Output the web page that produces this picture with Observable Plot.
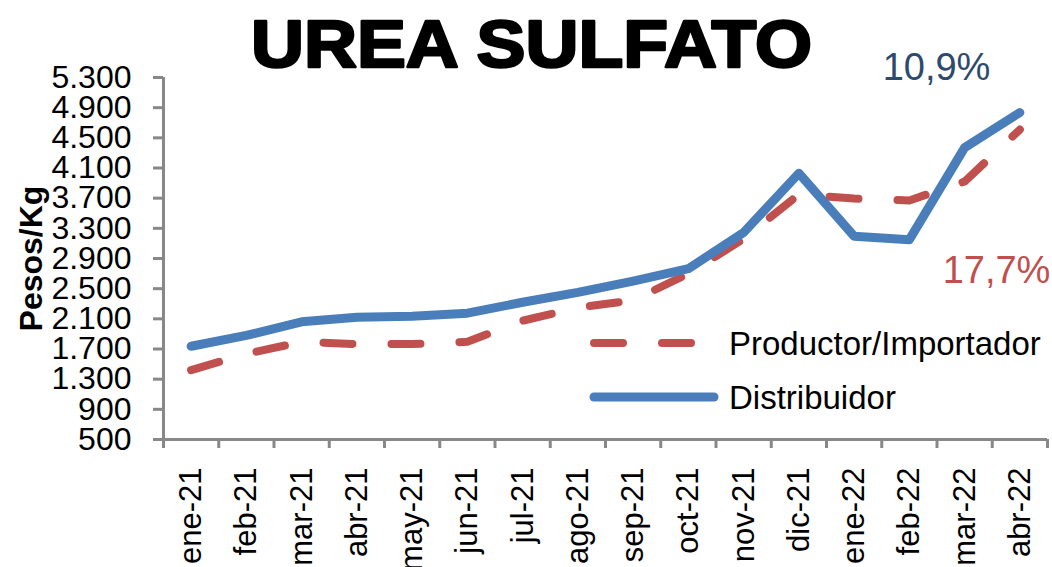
<!DOCTYPE html>
<html>
<head>
<meta charset="utf-8">
<script src="https://cdn.jsdelivr.net/npm/d3@7"></script>
<script src="https://cdn.jsdelivr.net/npm/@observablehq/plot@0.6"></script>
<style>
  body { margin: 0; background: #fff; }
  #wrap { position: relative; width: 1052px; height: 567px; font-family: "Liberation Sans", Arial, sans-serif; }
  #legend { position: absolute; left: 0; top: 0; pointer-events: none; }
</style>
</head>
<body>
<div id="wrap"></div>
<script>
// ---- data ----
const title = "UREA SULFATO";
const yLabel = "Pesos/Kg";
const months = ["ene-21","feb-21","mar-21","abr-21","may-21","jun-21","jul-21","ago-21","sep-21","oct-21","nov-21","dic-21","ene-22","feb-22","mar-22","abr-22"];
const distribuidor = [1737, 1880, 2060, 2120, 2135, 2175, 2320, 2450, 2600, 2765, 3245, 4030, 3195, 3150, 4370, 4835];
const productor    = [1420, 1635, 1795, 1765, 1765, 1795, 2075, 2250, 2345, 2700, 3160, 3750, 3695, 3670, 3920, 4610];
const yTicks = [500, 900, 1300, 1700, 2100, 2500, 2900, 3300, 3700, 4100, 4500, 4900, 5300];
const seriesNames = ["Productor/Importador", "Distribuidor"];
const annotDistribuidor = ["10,9%"];
const annotProductor = ["17,7%"];

// ---- build ----
const BLUE = "#4A7EBB", RED = "#C0504D", GRAY = "#888888";
const es = d3.formatLocale({decimal: ",", thousands: ".", grouping: [3], currency: ["$", ""]});
const fmt = es.format(",");
const idx = months.map((m, i) => i);
const bounds = months.map((m, i) => i - 0.5).concat([months.length - 0.5]);
const rowsD = months.map((m, i) => ({i, v: distribuidor[i]}));
const rowsP = months.map((m, i) => ({i, v: productor[i]}));

const chart = Plot.plot({
  width: 1052, height: 567,
  marginLeft: 163, marginRight: 5, marginTop: 77, marginBottom: 128,
  style: {fontFamily: "'Liberation Sans', Arial, sans-serif", background: "white", color: "black"},
  x: {type: "linear", domain: [-0.5, months.length - 0.5], axis: null},
  y: {domain: [500, 5300], axis: null},
  marks: [
    Plot.axisY({ticks: yTicks, tickFormat: fmt, tickSize: 10, tickPadding: 22, fontSize: 32,
                stroke: GRAY, strokeWidth: 3, fill: "black", label: null}),
    Plot.axisX({ticks: bounds, tickFormat: () => "", tickSize: 9, stroke: GRAY, strokeWidth: 3, label: null}),
    Plot.axisX({ticks: idx, tickFormat: i => months[i], tickSize: 0, tickRotate: -90, tickPadding: 28,
                fontSize: 31, fill: "black", label: null}),
    Plot.ruleX([-0.5], {stroke: GRAY, strokeWidth: 3}),
    Plot.ruleY([500], {stroke: GRAY, strokeWidth: 3}),
    Plot.line(rowsP, {x: "i", y: "v", stroke: RED, strokeWidth: 8, strokeDasharray: "29,39",
                      strokeLinecap: "round", strokeLinejoin: "round"}),
    Plot.line(rowsD, {x: "i", y: "v", stroke: BLUE, strokeWidth: 9,
                      strokeLinecap: "round", strokeLinejoin: "round"}),
    Plot.text([yLabel], {text: d => d, frameAnchor: "left", dx: -132, rotate: -90, fontSize: 32,
                         fontWeight: "bold", fill: "black", textAnchor: "middle", lineAnchor: "middle"}),
    Plot.text([title], {text: d => d, frameAnchor: "top", dx: -74, dy: -32, fontSize: 66, fontWeight: "bold",
                        fill: "black", stroke: "black", strokeWidth: 2.5, textAnchor: "middle", lineAnchor: "middle"}),
    Plot.text(annotDistribuidor, {text: d => d, frameAnchor: "top-right", dx: -111, dy: -10, fontSize: 38,
                        fill: "#2C4A6E", textAnchor: "middle", lineAnchor: "middle"}),
    Plot.text(annotProductor, {text: d => d, frameAnchor: "right", dx: -51, dy: 12, fontSize: 38,
                        fill: RED, textAnchor: "middle", lineAnchor: "middle"})
  ]
});
document.getElementById("wrap").appendChild(chart);

d3.select(chart).selectAll("text").filter(function() { return this.textContent === title; })
  .attr("textLength", 561).attr("lengthAdjust", "spacingAndGlyphs");

// ---- legend overlay ----
const ns = "http://www.w3.org/2000/svg";
const leg = d3.select("#wrap").append("svg").attr("id", "legend").attr("width", 1052).attr("height", 567);
const items = [
  {name: seriesNames[0], color: RED, dash: "29,39", w: 8, y: 343},
  {name: seriesNames[1], color: BLUE, dash: null, w: 9, y: 397}
];
items.forEach(it => {
  const l = leg.append("line").attr("x1", 594).attr("x2", 714).attr("y1", it.y).attr("y2", it.y)
    .attr("stroke", it.color).attr("stroke-width", it.w).attr("stroke-linecap", "round");
  if (it.dash) l.attr("stroke-dasharray", it.dash);
  leg.append("text").attr("x", 729).attr("y", it.y + 12).attr("font-size", 33)
    .attr("font-family", "'Liberation Sans', Arial, sans-serif").attr("fill", "black").text(it.name);
});
</script>
</body>
</html>
